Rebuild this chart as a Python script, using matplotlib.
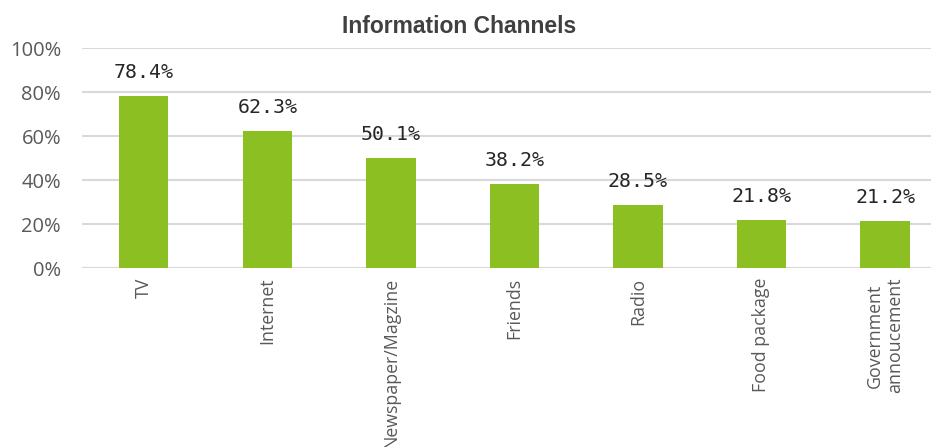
import matplotlib
matplotlib.use("Agg")
import matplotlib.pyplot as plt
import numpy as np

categories = ["TV", "Internet", "Newspaper/Magzine", "Friends", "Radio",
              "Food package", "Government\nannoucement"]
values = [78.4, 62.3, 50.1, 38.2, 28.5, 21.8, 21.2]
yticks = [0, 20, 40, 60, 80, 100]
ytick_labels = ["0%", "20%", "40%", "60%", "80%", "100%"]

bar_color = "#8CBF22"
grid_color = "#D9D9D9"
text_gray = "#595959"

fig = plt.figure(figsize=(9.31, 4.47), dpi=100)
ax = fig.add_axes([0.088, 0.4004, 0.929, 0.4922])

x = np.arange(len(categories))
ax.bar(x, values, width=0.4, color=bar_color, zorder=3)

ax.set_xlim(-0.5, len(categories) - 0.5)
ax.set_ylim(0, 100)
ax.set_yticks(yticks)
ax.set_yticklabels(ytick_labels, fontfamily="Open Sans", fontsize=14.5, color=text_gray)
ax.set_xticks(x)
ax.set_xticklabels(categories, rotation=90, fontfamily="Open Sans", fontsize=12.8,
                   color=text_gray, va="top", ha="center", multialignment="center")
ax.tick_params(axis="both", length=0)
ax.tick_params(axis="y", pad=15)
ax.tick_params(axis="x", pad=7)

ax.yaxis.grid(True, color=grid_color, linewidth=1.5, zorder=0)
ax.set_axisbelow(True)
for s in ax.spines.values():
    s.set_visible(False)
ax.axhline(0, color=grid_color, linewidth=1.5, zorder=2)

for xi, v in zip(x, values):
    ax.annotate(f"{v:.1f}%", (xi, v), xytext=(0, 10), textcoords="offset points",
                ha="center", va="bottom", fontfamily="DejaVu Sans Mono",
                fontsize=14.3, color="#262626")

fig.text(0.493, 0.94, "Information Channels", ha="center", va="center",
         fontfamily="Liberation Sans", fontweight="bold", fontsize=16.5, color="#404040")

fig.savefig("out.png", dpi=100, facecolor="white")
